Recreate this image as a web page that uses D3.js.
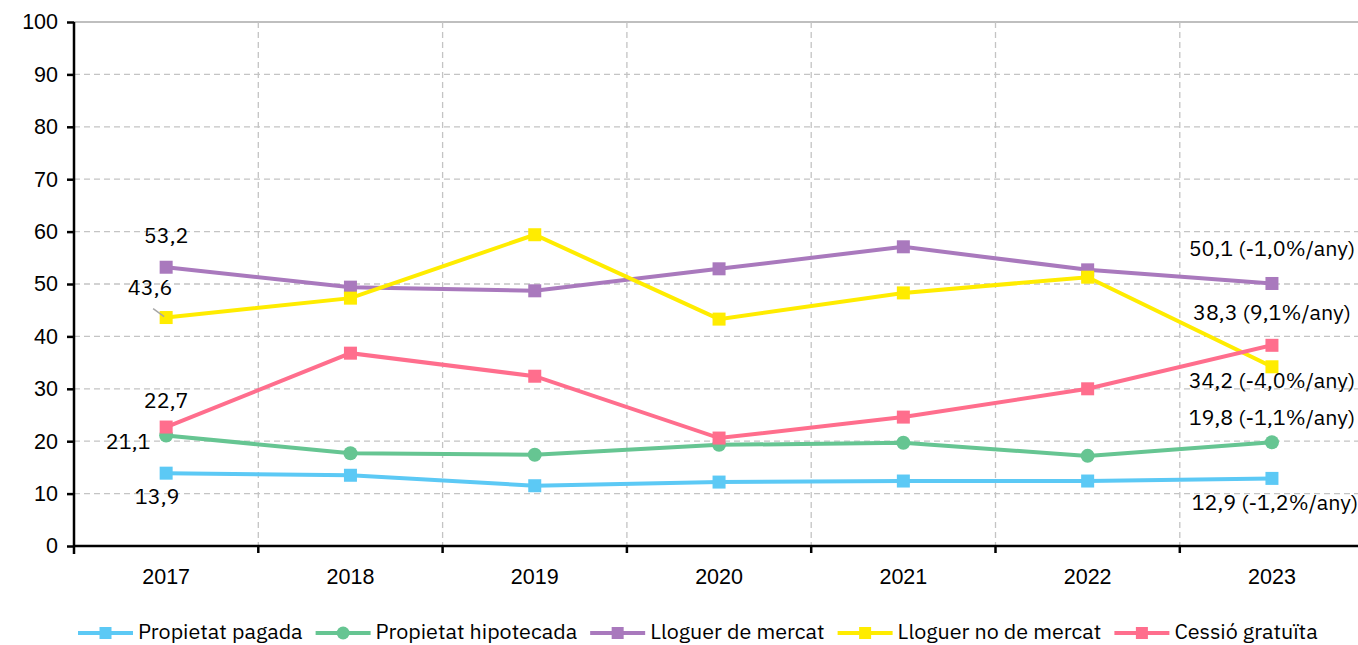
<!DOCTYPE html>
<html>
<head>
<meta charset="utf-8">
<script src="https://cdn.jsdelivr.net/npm/d3@7"></script>
<style>
  body { margin: 0; background: #fff; }
  svg { font-family: "IBM Plex Sans", "Noto Sans", sans-serif; }
</style>
</head>
<body>
<div id="chart"></div>
<script>
// data
var years = ['2017', '2018', '2019', '2020', '2021', '2022', '2023'];
var propietatPagada = [13.9, 13.5, 11.5, 12.2, 12.4, 12.4, 12.9];
var propietatHipotecada = [21.1, 17.7, 17.4, 19.3, 19.7, 17.2, 19.8];
var lloguerMercat = [53.2, 49.4, 48.7, 52.9, 57.1, 52.7, 50.1];
var lloguerNoMercat = [43.6, 47.3, 59.4, 43.3, 48.3, 51.3, 34.2];
var cessioGratuita = [22.7, 36.8, 32.4, 20.6, 24.6, 30.0, 38.3];
var yTicks = [0, 10, 20, 30, 40, 50, 60, 70, 80, 90, 100];
var seriesNames = ['Propietat pagada', 'Propietat hipotecada', 'Lloguer de mercat', 'Lloguer no de mercat', 'Cessió gratuïta'];
var endLabels = ['12,9 (-1,2%/any)', '19,8 (-1,1%/any)', '50,1 (-1,0%/any)', '34,2 (-4,0%/any)', '38,3 (9,1%/any)'];

var series = [
  { name: seriesNames[0], values: propietatPagada, color: '#5cc9f5', marker: 'square', end: endLabels[0] },
  { name: seriesNames[1], values: propietatHipotecada, color: '#66c592', marker: 'circle', end: endLabels[1] },
  { name: seriesNames[2], values: lloguerMercat, color: '#a979bd', marker: 'square', end: endLabels[2] },
  { name: seriesNames[3], values: lloguerNoMercat, color: '#ffec00', marker: 'square', end: endLabels[3] },
  { name: seriesNames[4], values: cessioGratuita, color: '#ff6e8d', marker: 'square', end: endLabels[4] }
];

// label offsets (dx, dy) from the point for first and last values
var startOff = [[-9, 25], [-38, 8], [0, -30], [-16, -28], [0, -25]];
var endOff = [[3, 26], [0, -23], [0, -33], [0, 16], [0, -31]];

var fontSize = 21.5;
var width = 1358, height = 645;
var margin = { left: 74, top: 22, bottom: 99 };

var svg = d3.select('#chart').append('svg')
  .attr('width', width)
  .attr('height', height);

var x = d3.scaleBand().domain(years).range([margin.left, margin.left + 7 * 184.3]);
var y = d3.scaleLinear().domain([0, 100]).range([height - margin.bottom, margin.top]);

var fmt = function(v) { return d3.format('.1f')(v).replace('.', ','); };

// horizontal grid
svg.append('g').selectAll('line')
  .data(yTicks.filter(function(d) { return d > 0; }))
  .enter().append('line')
  .attr('x1', margin.left).attr('x2', width)
  .attr('y1', function(d) { return y(d); })
  .attr('y2', function(d) { return y(d); })
  .attr('stroke', function(d) { return d === 100 ? '#bfbfbf' : '#c4c4c4'; })
  .attr('stroke-width', function(d) { return d === 100 ? 2 : 1.3; })
  .attr('stroke-dasharray', function(d) { return d === 100 ? null : '6,4'; });

// vertical grid at category boundaries
svg.append('g').selectAll('line')
  .data(years.slice(1))
  .enter().append('line')
  .attr('x1', function(d) { return x(d); })
  .attr('x2', function(d) { return x(d); })
  .attr('y1', y(100)).attr('y2', y(0))
  .attr('stroke', '#c4c4c4')
  .attr('stroke-width', 1.3)
  .attr('stroke-dasharray', '6,4');

// y axis
var yAxis = svg.append('g')
  .attr('transform', 'translate(' + margin.left + ',0)')
  .call(d3.axisLeft(y).tickValues(yTicks).tickSize(7).tickPadding(9));
yAxis.select('.domain').attr('stroke', '#000').attr('stroke-width', 2.5).attr('d', 'M0,' + y(100) + 'V' + (y(0) + 8));
yAxis.selectAll('.tick line').attr('stroke', '#000').attr('stroke-width', 2.5);
yAxis.selectAll('.tick text').attr('font-size', fontSize).attr('fill', '#000').attr('font-family', null);

// x axis
var xAxis = svg.append('g')
  .attr('transform', 'translate(0,' + y(0) + ')')
  .call(d3.axisBottom(x).tickSize(0).tickPadding(23));
xAxis.select('.domain').attr('stroke', '#000').attr('stroke-width', 2.5).attr('d', 'M' + margin.left + ',0H' + width);
xAxis.selectAll('.tick text').attr('font-size', fontSize).attr('fill', '#000').attr('font-family', null);
svg.append('g').selectAll('line')
  .data(years.slice(1))
  .enter().append('line')
  .attr('x1', function(d) { return x(d); })
  .attr('x2', function(d) { return x(d); })
  .attr('y1', y(0)).attr('y2', y(0) + 7)
  .attr('stroke', '#000').attr('stroke-width', 2.5);

var line = d3.line()
  .x(function(d, i) { return x(years[i]) + x.bandwidth() / 2; })
  .y(function(d) { return y(d); });

function drawMarker(g, type, color, cx, cy, s) {
  if (type === 'circle') {
    g.append('circle').attr('cx', cx).attr('cy', cy).attr('r', s / 2 + 0.5).attr('fill', color);
  } else {
    g.append('rect').attr('x', cx - s / 2).attr('y', cy - s / 2).attr('width', s).attr('height', s).attr('fill', color);
  }
}

series.forEach(function(s) {
  var g = svg.append('g');
  g.append('path').datum(s.values)
    .attr('d', line)
    .attr('fill', 'none')
    .attr('stroke', s.color)
    .attr('stroke-width', 4);
  s.values.forEach(function(v, i) {
    drawMarker(g, s.marker, s.color, x(years[i]) + x.bandwidth() / 2, y(v), 13);
  });
});

// data labels
series.forEach(function(s, k) {
  var n = s.values.length - 1;
  var x0 = x(years[0]) + x.bandwidth() / 2, y0 = y(s.values[0]);
  var x1 = x(years[n]) + x.bandwidth() / 2, y1 = y(s.values[n]);
  svg.append('text')
    .attr('x', x0 + startOff[k][0]).attr('y', y0 + startOff[k][1])
    .attr('text-anchor', 'middle').attr('dominant-baseline', 'middle')
    .attr('font-size', fontSize).attr('fill', '#000')
    .text(fmt(s.values[0]));
  svg.append('text')
    .attr('x', x1 + endOff[k][0]).attr('y', y1 + endOff[k][1])
    .attr('text-anchor', 'middle').attr('dominant-baseline', 'middle')
    .attr('font-size', fontSize).attr('fill', '#000')
    .text(s.end);
});

// leader line for 43,6
svg.append('line')
  .attr('x1', x(years[0]) + x.bandwidth() / 2 - 13).attr('y1', y(lloguerNoMercat[0]) - 9)
  .attr('x2', x(years[0]) + x.bandwidth() / 2 - 2).attr('y2', y(lloguerNoMercat[0]) - 1)
  .attr('stroke', '#a6a6a6').attr('stroke-width', 1.5);

// legend
var legend = svg.append('g').attr('transform', 'translate(0,633)');
var lx = 78;
series.forEach(function(s) {
  var g = legend.append('g');
  g.append('line').attr('x1', lx).attr('x2', lx + 55).attr('y1', 0).attr('y2', 0)
    .attr('stroke', s.color).attr('stroke-width', 4);
  drawMarker(g, s.marker, s.color, lx + 27.5, 0, 12);
  var t = g.append('text').attr('x', lx + 60).attr('y', 0)
    .attr('dominant-baseline', 'middle')
    .attr('font-size', fontSize).attr('fill', '#000').text(s.name);
  lx += 60 + t.node().getComputedTextLength() + 13;
});
</script>
</body>
</html>
